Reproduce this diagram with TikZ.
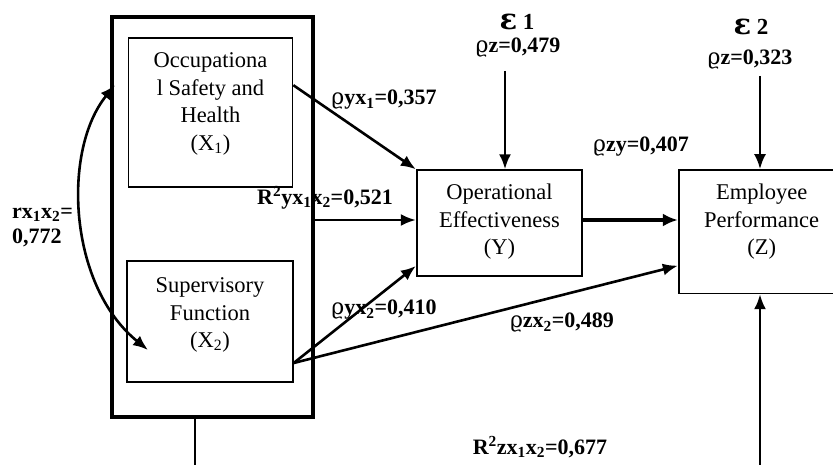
\documentclass[tikz,border=0pt]{standalone}
\usepackage{fontspec}
\setmainfont{Liberation Serif}
\newfontfamily\grk{DejaVu Serif}
\usetikzlibrary{arrows.meta}
\newcommand{\rh}{{\grk\mdseries ϱ}}
\newcommand{\eps}{{\grk\fontsize{29}{29}\selectfont ε}}

\begin{document}
\begin{tikzpicture}[x=1pt,y=-1pt,
  box/.style={draw, line width=1.7pt, inner sep=0pt},
  groupbox/.style={draw, line width=4pt, inner sep=0pt},
  txt/.style={align=center, inner sep=0pt, font=\fontsize{22.5}{27.5}\selectfont},
  lbl/.style={inner sep=0pt, font=\fontsize{22}{25}\selectfont\bfseries},
  elbl/.style={inner sep=0pt, font=\fontsize{23}{25}\selectfont\bfseries},
  arr/.style={line width=2.6pt, -{Latex[length=15pt,width=12pt]}},
  biarr/.style={line width=2.6pt, {Latex[length=15pt,width=12pt]}-{Latex[length=15pt,width=12pt]}},
  thickarr/.style={line width=4pt, -{Latex[length=15pt,width=13pt]}}
]
\clip (0,0) rectangle (833,465);

% exogenous block with its two variables
\node[groupbox, minimum width=200.5pt, minimum height=400pt] (G) at (212.25,217) {};
\node[box, minimum width=164pt, minimum height=149pt] (X1) at (210.5,112.2) {};
\node[txt] (X1t) at (210.5,104) {Occupationa\\l Safety and\\Health\\(X\textsubscript{1})};
\node[box, minimum width=165.7pt, minimum height=121.6pt] (X2) at (210,321.5) {};
\node[txt] (X2t) at (210,315) {Supervisory\\Function\\(X\textsubscript{2})};

% endogenous variables
\node[box, minimum width=165.6pt, minimum height=105.7pt] (Y) at (499.5,223) {};
\node[txt] (Yt) at (499.5,222) {Operational\\Effectiveness\\(Y)};
\node[box, minimum width=166pt, minimum height=123.3pt] (Z) at (761.7,231.7) {};
\node[txt] (Zt) at (761.7,222) {Employee\\Performance\\(Z)};

% residual terms
\node[elbl] (e1) at (517,22) {\eps\ 1};
\node[lbl] (r1) at (518,48) {\rh z=0,479};
\node[elbl] (e2) at (751,27) {\eps\ 2};
\node[lbl] (r2) at (750,60) {\rh z=0,323};

% path coefficients
\node[lbl] (pyx1) at (384,100) {\rh yx\textsubscript{1}=0,357};
\node[lbl] (ryx) at (325,198) {R\textsuperscript{2}yx\textsubscript{1}x\textsubscript{2}=0,521};
\node[lbl] (pzy) at (641,147) {\rh zy=0,407};
\node[lbl] (pyx2) at (384,310) {\rh yx\textsubscript{2}=0,410};
\node[lbl] (pzx2) at (562,323) {\rh zx\textsubscript{2}=0,489};
\node[lbl] (rzx) at (540,447) {R\textsuperscript{2}zx\textsubscript{1}x\textsubscript{2}=0,677};
\node[lbl, anchor=west] (rx1) at (12,215) {rx\textsubscript{1}x\textsubscript{2}=};
\node[lbl, anchor=west] (rx2) at (12,238) {0,772};

% free ends
\coordinate (e1top) at (505,71);
\coordinate (e2top) at (760,76);
\coordinate (zbot) at (760,465);
\coordinate (gbot) at (195,465);
\coordinate (c1) at (115,85);
\coordinate (c2) at (148,350);
\coordinate (yin) at ([yshift=3pt]Y.west);
\coordinate (yout) at ([yshift=3pt]Y.east);
\coordinate (x2out) at ([yshift=-41.5pt]X2.east);

% connectors
\draw[arr] ([yshift=27pt]X1.east) -- (Y.north west);
\draw[arr] (G.east |- yin) -- (yin);
\draw[arr] (x2out) -- ([yshift=-43pt]Y.west);
\draw[arr] (x2out) -- ([yshift=-34pt]Z.west);
\draw[thickarr] (yout) -- (Z.west |- yout);
\draw[arr] (e1top) -- (e1top |- Y.north);
\draw[arr] (e2top) -- (e2top |- Z.north);
\draw[arr] (zbot) -- (zbot |- Z.south);
\draw[line width=2.6pt] (G.south -| gbot) -- (gbot);
\draw[biarr] (c1) .. controls (62,150) and (68,285) .. (c2);
\end{tikzpicture}
\end{document}
